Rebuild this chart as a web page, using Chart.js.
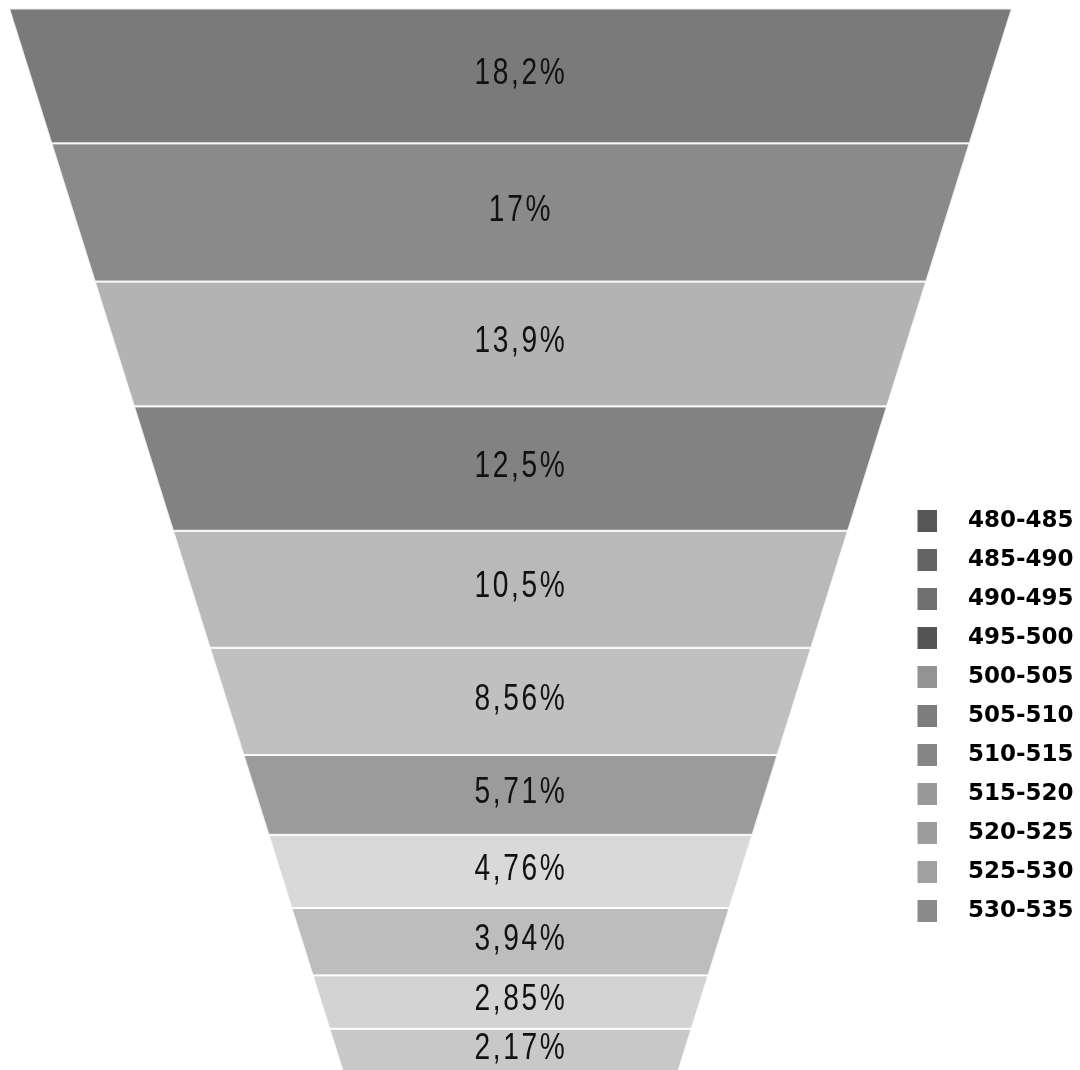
<!DOCTYPE html>
<html>
<head>
<meta charset="utf-8">
<script src="https://cdn.jsdelivr.net/npm/chart.js@4.4.1/dist/chart.umd.min.js"></script>
<style>
  html, body { margin: 0; padding: 0; background: #fff; }
  #wrap { width: 1080px; height: 1070px; position: relative; }
</style>
</head>
<body>
<div id="wrap"><canvas id="funnelChart"></canvas></div>
<script>
// Legend categories and their swatch colours
const categories = ['480-485', '485-490', '490-495', '495-500', '500-505', '505-510',
                    '510-515', '515-520', '520-525', '525-530', '530-535'];
const legendColors = ['#575757', '#646464', '#707070', '#545454', '#939393', '#7c7c7c',
                      '#858585', '#999999', '#9c9c9c', '#a0a0a0', '#8a8a8a'];

// Funnel slices, top to bottom (percent)
const sliceValues = [18.2, 17, 13.9, 12.5, 10.5, 8.56, 5.71, 4.76, 3.94, 2.85, 2.17];
const sliceColors = ['#7a7a7a', '#8a8a8a', '#b3b3b3', '#828282', '#b9b9b9', '#c0c0c0',
                     '#9b9b9b', '#d9d9d9', '#bdbdbd', '#d3d3d3', '#c8c8c8'];

// Funnel shape (axis units = canvas pixels)
const CX = 510.5;
const FUNNEL_TOP = 8.5;
const FUNNEL_BOTTOM = 1073;
const TOP_HALF = 501.5;
const BOTTOM_HALF = 167.3;
const LABEL_X = 521;

// slice heights are chosen so that each slice's area follows its value
const H = FUNNEL_BOTTOM - FUNNEL_TOP;
const k = (TOP_HALF - BOTTOM_HALF) / H;
const fullArea = (TOP_HALF + BOTTOM_HALF) * H;
const total = sliceValues.reduce((a, b) => a + b, 0);
function depthForArea(a) {
    return (TOP_HALF - Math.sqrt(Math.max(TOP_HALF * TOP_HALF - k * a, 0))) / k;
}
const edges = [0];
let cum = 0;
sliceValues.forEach(v => {
    cum += v;
    edges.push(depthForArea(fullArea * cum / total));
});

const datasets = sliceValues.map((v, i) => {
    const y0 = FUNNEL_TOP + edges[i];
    const y1 = FUNNEL_TOP + edges[i + 1];
    const h0 = TOP_HALF - k * edges[i];
    const h1 = TOP_HALF - k * edges[i + 1];
    return {
        label: String(v),
        data: [
            {x: CX - h0, y: y0}, {x: CX + h0, y: y0},
            {x: CX + h1, y: y1}, {x: CX - h1, y: y1},
            {x: CX - h0, y: y0}
        ],
        showLine: true,
        fill: 'shape',
        backgroundColor: sliceColors[i],
        borderColor: 'rgba(255,255,255,0.85)',
        borderWidth: 2,
        pointRadius: 0,
        borderJoinStyle: 'miter'
    };
});

function formatPct(v) {
    return String(v).replace('.', ',') + '%';
}

// legend swatch: square at the left of a wider transparent canvas
function swatch(color) {
    const c = document.createElement('canvas');
    c.width = 62;
    c.height = 22;
    const g = c.getContext('2d');
    g.fillStyle = color;
    g.fillRect(0, 0, 23, 22);
    return c;
}

// Percent labels inside each slice
const sliceLabels = {
    id: 'sliceLabels',
    afterDatasetsDraw(chart) {
        const {ctx, scales: {x, y}} = chart;
        ctx.save();
        ctx.font = '37px "Liberation Sans", Arial, sans-serif';
        ctx.fillStyle = '#111';
        ctx.textAlign = 'center';
        ctx.textBaseline = 'middle';
        if ('letterSpacing' in ctx) ctx.letterSpacing = '3.5px';
        sliceValues.forEach((v, i) => {
            const mid = FUNNEL_TOP + (edges[i] + edges[i + 1]) / 2;
            const px = x.getPixelForValue(LABEL_X);
            const py = y.getPixelForValue(Math.min(mid - 2, 1051));
            ctx.save();
            ctx.translate(px, py);
            ctx.scale(0.76, 1);
            ctx.fillText(formatPct(v), 0, 0);
            ctx.restore();
        });
        ctx.restore();
    }
};

// Put the legend box at the lower right, over the chart area
const legendPlacer = {
    id: 'legendPlacer',
    afterLayout(chart) {
        if (!chart.legend) return;
        chart.legend.left = 917.5;
        chart.legend.top = 493.5;
    }
};

document.addEventListener('DOMContentLoaded', function() {
    const ctx = document.getElementById('funnelChart').getContext('2d');
    new Chart(ctx, {
        type: 'scatter',
        data: { datasets: datasets },
        options: {
            responsive: true,
            maintainAspectRatio: false,
            animation: false,
            events: [],
            layout: { padding: 0 },
            scales: {
                x: { type: 'linear', min: 0, max: 1080, display: false },
                y: { type: 'linear', min: 0, max: 1070, reverse: true, display: false }
            },
            plugins: {
                tooltip: { enabled: false },
                legend: {
                    position: 'chartArea',
                    align: 'start',
                    labels: {
                        usePointStyle: true,
                        boxWidth: 23,
                        boxHeight: 22,
                        padding: 16,
                        color: '#4d4d4d',
                        font: { family: '"DejaVu Sans", sans-serif', size: 23, weight: 'bold' },
                        generateLabels: function() {
                            return categories.map((c, i) => ({
                                text: c,
                                fillStyle: legendColors[i],
                                strokeStyle: legendColors[i],
                                lineWidth: 0,
                                pointStyle: swatch(legendColors[i]),
                                hidden: false
                            }));
                        }
                    }
                }
            }
        },
        plugins: [sliceLabels, legendPlacer]
    });
});
</script>
</body>
</html>
